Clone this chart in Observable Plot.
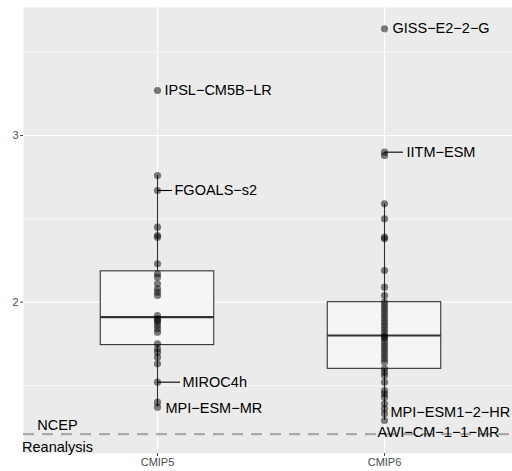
<!DOCTYPE html>
<html>
<head>
<meta charset="utf-8">
<script src="https://cdn.jsdelivr.net/npm/d3@7"></script>
<script src="https://cdn.jsdelivr.net/npm/@observablehq/plot@0.6"></script>
<style>
  html, body { margin: 0; padding: 0; background: #ffffff; }
  svg { display: block; }
</style>
</head>
<body>
<div id="chart"></div>
<script>
// ---- data ----
const categories = ["CMIP5", "CMIP6"];

const cmip5Values = [
  3.27, 2.76, 2.67, 2.45, 2.40, 2.39, 2.23, 2.17, 2.15, 2.11, 2.08, 2.06, 2.04,
  1.92, 1.90, 1.89, 1.88, 1.86, 1.84, 1.82, 1.75, 1.72, 1.70, 1.67, 1.63,
  1.52, 1.40, 1.37
];

const cmip6Values = [
  3.64, 2.90, 2.88, 2.59, 2.50, 2.39, 2.38, 2.19, 2.09, 2.04,
  2.00, 1.98, 1.96, 1.94, 1.92, 1.90, 1.88, 1.86, 1.84, 1.82,
  1.80, 1.79, 1.78, 1.76, 1.74, 1.72, 1.70, 1.68, 1.66, 1.64,
  1.60, 1.58, 1.56, 1.52, 1.47, 1.45, 1.43, 1.39, 1.36, 1.33, 1.29
];

const labelModels = ["IPSL−CM5B−LR", "FGOALS−s2", "MIROC4h", "MPI−ESM−MR",
                     "GISS−E2−2−G", "IITM−ESM", "MPI−ESM1−2−HR", "AWI−CM−1−1−MR"];
const labelGroups = ["CMIP5", "CMIP5", "CMIP5", "CMIP5", "CMIP6", "CMIP6", "CMIP6", "CMIP6"];
const labelValues = [3.27, 2.67, 1.52, 1.37, 3.64, 2.90, 1.33, 1.29];

const referenceName = "NCEP\nReanalysis";
const referenceValue = 1.208;

const yTicks = [2, 3];
const yMinor = [1.5, 2.5, 3.5];

// ---- layout (code, not data) ----
const W = 512, H = 471;
const XR = [157, 384];           // pixel positions of the two categories
const unitPx = XR[1] - XR[0];
// label placement (pixel offsets, like ggrepel output)
const labelLayout = {
  "IPSL−CM5B−LR":   {dx: 7,  dy: 0,  seg: 0},
  "FGOALS−s2":      {dx: 17, dy: 0,  seg: 15},
  "MIROC4h":        {dx: 25, dy: 0,  seg: 23},
  "MPI−ESM−MR":     {dx: 8,  dy: 1,  seg: 0},
  "GISS−E2−2−G":    {dx: 8,  dy: 0,  seg: 0},
  "IITM−ESM":       {dx: 22, dy: 0,  seg: 19},
  "MPI−ESM1−2−HR":  {dx: 6,  dy: -1, seg: 0},
  "AWI−CM−1−1−MR":  {dx: -7, dy: 12, seg: 0}
};

const idx = g => categories.indexOf(g) + 1;

const points = [
  ...cmip5Values.map(v => ({group: "CMIP5", value: v})),
  ...cmip6Values.map(v => ({group: "CMIP6", value: v}))
];

const stats = [["CMIP5", cmip5Values], ["CMIP6", cmip6Values]].map(([g, vals]) => {
  const s = vals.slice().sort(d3.ascending);
  const q1 = d3.quantile(s, 0.25), med = d3.quantile(s, 0.5), q3 = d3.quantile(s, 0.75);
  const iqr = q3 - q1;
  const lo = d3.min(s.filter(v => v >= q1 - 1.5 * iqr));
  const hi = d3.max(s.filter(v => v <= q3 + 1.5 * iqr));
  return {group: g, i: idx(g), q1, med, q3, lo, hi};
});

const labels = labelModels.map((m, k) => ({
  model: m, group: labelGroups[k], value: labelValues[k], ...labelLayout[m]
}));

const halfBox = 0.25;
const labelSize = 14.5;

const chart = Plot.plot({
  width: W,
  height: H,
  marginLeft: 23,
  marginRight: 0,
  marginTop: 7,
  marginBottom: 18,
  style: {fontFamily: "Liberation Sans, Arial, sans-serif", background: "#ffffff"},
  x: {type: "linear", domain: [1, 2], range: XR, axis: null},
  y: {domain: [1.092, 3.768], axis: null},
  marks: [
    Plot.frame({fill: "#EBEBEB", stroke: null}),
    Plot.ruleY(yMinor, {stroke: "#ffffff", strokeWidth: 0.6}),
    Plot.ruleY(yTicks, {stroke: "#ffffff", strokeWidth: 1.1}),
    Plot.ruleX([1, 2], {stroke: "#ffffff", strokeWidth: 1.1}),
    // whiskers
    Plot.ruleX(stats, {x: "i", y1: "lo", y2: "hi", stroke: "#333333", strokeWidth: 1.1}),
    // boxes
    Plot.rect(stats, {x1: d => d.i - halfBox, x2: d => d.i + halfBox, y1: "q1", y2: "q3",
                      fill: "#F5F5F5", stroke: "#333333", strokeWidth: 1.1}),
    Plot.ruleY(stats, {x1: d => d.i - halfBox, x2: d => d.i + halfBox, y: "med",
                       stroke: "#333333", strokeWidth: 2.2}),
    // points
    Plot.dot(points, {x: d => idx(d.group), y: "value", r: 3.6, fill: "#000000",
                      fillOpacity: 0.5, stroke: null}),
    // reference line
    Plot.ruleY([referenceValue], {stroke: "#A9A9A9", strokeWidth: 2.2, strokeDasharray: "11,8"}),
    Plot.text([referenceValue], {y: d => d, frameAnchor: "left", dx: 34, text: () => referenceName,
                                 textAnchor: "middle", lineHeight: 1.5, fontSize: labelSize, fill: "#000000"}),
    // connectors
    Plot.ruleY(labels.filter(d => d.seg > 0), {
      x1: d => idx(d.group), x2: d => idx(d.group) + d.seg / unitPx, y: "value",
      stroke: "#000000", strokeWidth: 1.1
    }),
    // labels
    ...labels.map(d => Plot.text([d], {
      x: e => idx(e.group), y: "value", text: "model", dx: d.dx, dy: d.dy,
      textAnchor: "start", fontSize: labelSize, fill: "#000000"
    })),
    // axes
    Plot.axisY({ticks: yTicks, tickFormat: d => String(d), tickSize: 3, tickPadding: 2,
                fontSize: 11, color: "#4D4D4D", label: null}),
    Plot.axisX({ticks: [1, 2], tickFormat: d => categories[d - 1], tickSize: 3, tickPadding: 2,
                fontSize: 11, color: "#4D4D4D", label: null})
  ]
});

document.getElementById("chart").appendChild(chart);
</script>
</body>
</html>
